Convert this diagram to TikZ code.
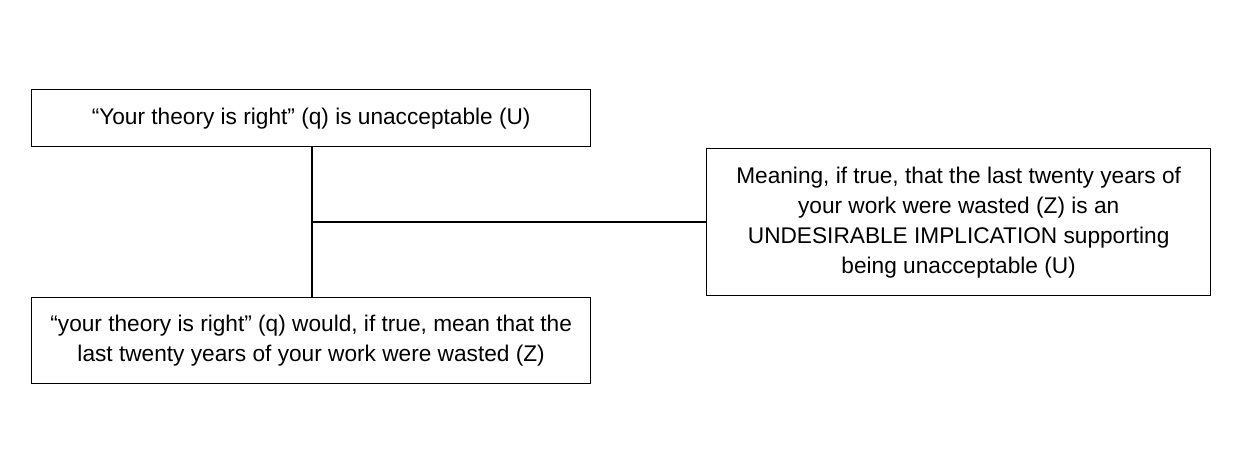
\documentclass[tikz,border=0pt]{standalone}
\usepackage{fontspec}
\setmainfont{Liberation Sans}
\begin{document}
\begin{tikzpicture}[x=0.75pt,y=-0.75pt,
  box/.style={draw,line width=1pt,align=center,font=\fontsize{17}{22.5}\selectfont,inner sep=0pt,anchor=north west},
  ln/.style={line width=1pt}]
\useasboundingbox (0,0) rectangle (1240,473);
\node[box,minimum width=559*0.75pt,minimum height=57*0.75pt] (u) at (31,89) {“Your theory is right” (q) is unacceptable (U)};
\node[box,minimum width=559*0.75pt,minimum height=86*0.75pt] (z) at (31,297) {“your theory is right” (q) would, if true, mean that the\\last twenty years of your work were wasted (Z)};
\node[box,minimum width=504*0.75pt,minimum height=147*0.75pt] (m) at (706,148) {Meaning, if true, that the last twenty years of\\your work were wasted (Z) is an\\UNDESIRABLE IMPLICATION supporting\\being unacceptable (U)};
\coordinate (j) at (312,222);
\draw[ln] (u.south -| j) -- (z.north -| j);
\draw[ln] (j) -- (m.west |- j);
\end{tikzpicture}
\end{document}
